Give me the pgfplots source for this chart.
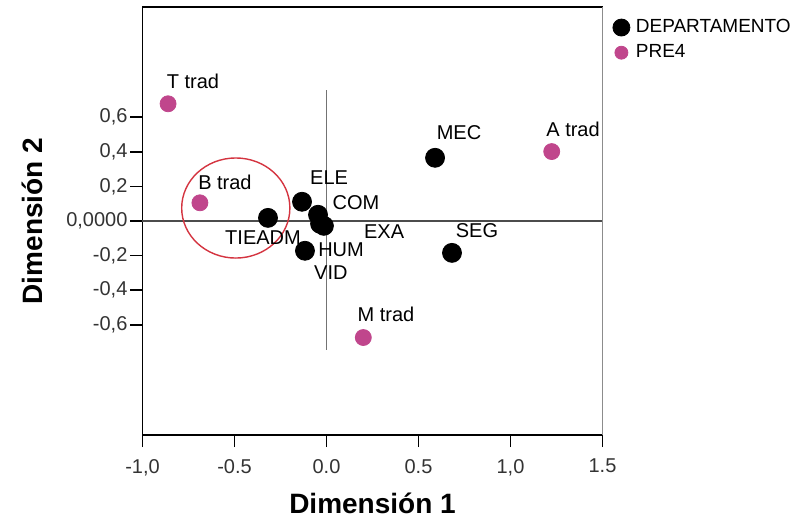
\documentclass[border=0pt]{standalone}
\usepackage{fontspec}
\setmainfont{Liberation Sans}
\usepackage{pgfplots}
\pgfplotsset{compat=1.18}
\definecolor{pinkpt}{RGB}{192,70,140}
\definecolor{ringred}{RGB}{212,52,64}
\begin{document}
\begin{tikzpicture}
\begin{axis}[
  scale only axis, width=230pt, height=214pt,
  xmin=-1, xmax=1.5, ymin=-1.236, ymax=1.236,
  xtick={-1,-0.5,0,0.5,1,1.5},
  xticklabels={{-1,0},{-0.5},{0.0},{0.5},{1,0},{1.5}},
  ytick={-0.6,-0.4,-0.2,0,0.2,0.4,0.6},
  yticklabels={{-0,6},{-0,4},{-0,2},{0,0000},{0,2},{0,4},{0,6}},
  tick align=outside, major tick length=6pt,
  xtick pos=bottom, ytick pos=left,
  tick style={black, line width=0.8pt},
  /pgf/number format/assume math mode=true,
  ticklabel style={font=\fontsize{10}{11}\selectfont, text=black!80},
  xticklabel style={yshift=-2.5pt},
  yticklabel style={xshift=2pt},
  axis line style={line width=0.9pt},
  xlabel={Dimensión 1}, ylabel={Dimensión 2},
  label style={font=\fontsize{14}{16}\selectfont\bfseries},
  xlabel style={at={(rel axis cs:0.5,0)}, anchor=base, yshift=-39pt},
  ylabel style={at={(rel axis cs:0,0.5)}, anchor=center, yshift=55pt},
  clip=false,
  legend style={draw=none, fill=none, at={(rel axis cs:1,1)}, anchor=north west,
    xshift=4pt, yshift=-3pt, font=\fontsize{9.5}{10}\selectfont, row sep=0.5pt,
    inner sep=1pt, nodes={inner xsep=3pt}},
  legend cell align=left,
]
\addplot[forget plot, draw=black!70, line width=0.7pt] coordinates {(-1,0) (1.5,0)};
\addplot[forget plot, draw=black!55, line width=0.7pt] coordinates {(0,-0.745) (0,0.755)};
\addplot[only marks, mark=*, mark size=4.75pt, black,
  legend image code/.code={\draw[black, fill=black] plot[mark=*, mark size=4.25pt] coordinates {(0pt,0pt)};}]
  coordinates {
  (-0.318,0.018) (-0.133,0.111) (-0.046,0.036) (-0.035,-0.016)
  (-0.014,-0.028) (-0.117,-0.172) (0.590,0.365) (0.682,-0.184)
  };
\addlegendentry{DEPARTAMENTO}
\addplot[only marks, mark=*, mark size=4pt, draw=pinkpt, fill=pinkpt,
  legend image code/.code={\draw[pinkpt, fill=pinkpt] plot[mark=*, mark size=3.25pt] coordinates {(0pt,0pt)};}]
  coordinates {
  (-0.861,0.677) (-0.688,0.105) (1.224,0.401) (0.200,-0.673)
  };
\addlegendentry{PRE4}
\draw[ringred, line width=0.7pt] (axis cs:-0.493,0.075) ellipse [x radius=0.294, y radius=0.289];
\draw[black!45, line width=0.9pt] (rel axis cs:1,0) -- (rel axis cs:1,1);
\begin{scope}[every node/.style={font=\fontsize{10}{11}\selectfont, inner sep=0pt}]
\node at (axis cs:-0.726,0.809) {T trad};
\node at (axis cs:-0.552,0.221) {B trad};
\node at (axis cs:1.340,0.527) {A trad};
\node at (axis cs:0.323,-0.542) {M trad};
\node at (axis cs:0.720,0.510) {MEC};
\node at (axis cs:0.818,-0.057) {SEG};
\node at (axis cs:-0.345,-0.097) {TIEADM};
\node at (axis cs:0.014,0.250) {ELE};
\node at (axis cs:0.160,0.105) {COM};
\node at (axis cs:0.313,-0.062) {EXA};
\node at (axis cs:0.079,-0.166) {HUM};
\node at (axis cs:0.024,-0.299) {VID};
\end{scope}
\end{axis}
\pgfresetboundingbox
\path ([xshift=-71.25pt, yshift=-41.5pt]current axis.south west) rectangle ([xshift=97.25pt, yshift=3.5pt]current axis.north east);
\end{tikzpicture}
\end{document}
